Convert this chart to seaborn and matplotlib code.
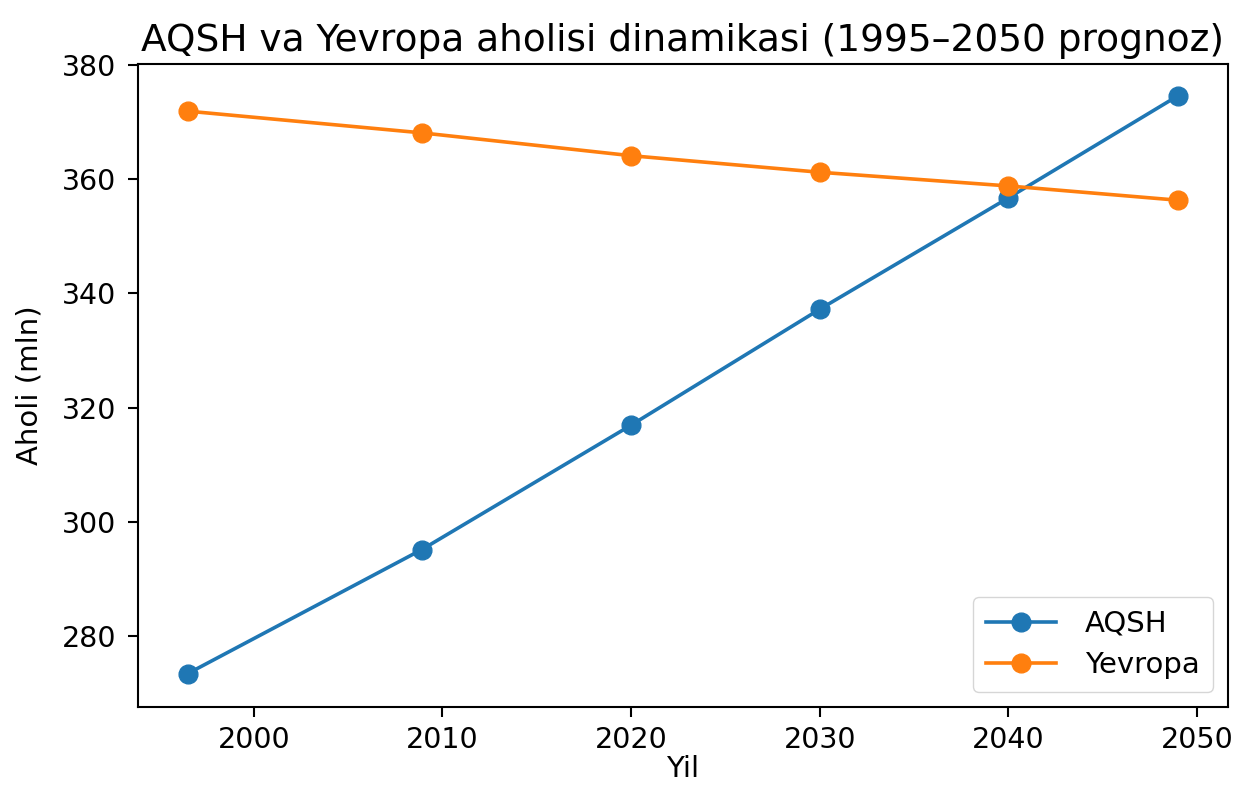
import pandas as pd
import matplotlib
matplotlib.use("Agg")
import matplotlib.pyplot as plt
import seaborn as sns

# data
years = [1996.5, 2008.9, 2020.0, 2030.0, 2040.0, 2049.0]
aqsh = [273.4, 295.1, 316.9, 337.2, 356.7, 374.6]
yevropa = [371.9, 368.1, 364.1, 361.2, 358.8, 356.3]
series_names = ["AQSH", "Yevropa"]
colors = ["#1f77b4", "#ff7f0e"]

df = pd.DataFrame({"Yil": years, "AQSH": aqsh, "Yevropa": yevropa})

plt.rcParams['font.family'] = ['DejaVu Sans']

fig = plt.figure(figsize=(12.45, 7.87), dpi=100)
ax = fig.add_axes([0.111, 0.102, 0.875, 0.817])

for name, col in zip(series_names, colors):
    sns.lineplot(data=df, x="Yil", y=name, ax=ax, color=col, label=name,
                 marker="o", markersize=13.5, markeredgecolor=col,
                 markeredgewidth=1, linewidth=2.6)

ax.set_ylim(267.6, 380.2)
ax.set_xticks([2000, 2010, 2020, 2030, 2040, 2050])
ax.set_yticks([280, 300, 320, 340, 360, 380])
ax.tick_params(labelsize=20.5, length=7.2, width=1.5)
ax.tick_params(axis="y", pad=8.5)
ax.tick_params(axis="x", pad=6.5)
for s in ax.spines.values():
    s.set_linewidth(1.5)

ax.set_title("AQSH va Yevropa aholisi dinamikasi (1995–2050 prognoz)", fontsize=27, pad=9)
ax.set_xlabel("Yil", fontsize=21, labelpad=1)
ax.set_ylabel("Aholi (mln)", fontsize=21, labelpad=13)
ax.legend(loc="lower right", fontsize=21, borderpad=0.45, handlelength=2.4,
          labelspacing=0.45, handletextpad=1.0, borderaxespad=0.5, framealpha=0.8)

fig.savefig("out.png", dpi=100)
